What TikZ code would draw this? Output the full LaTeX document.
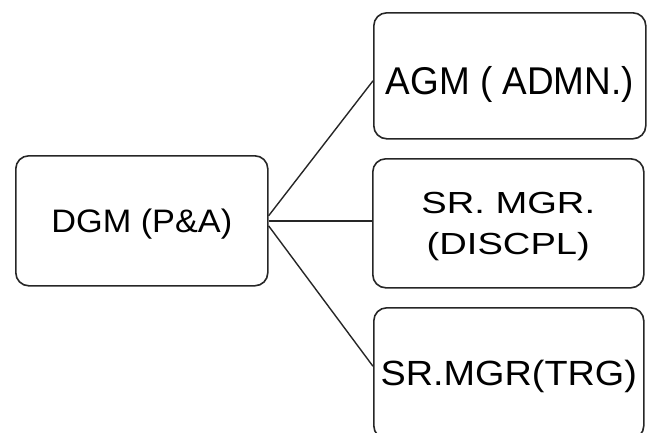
\documentclass[tikz,border=0pt]{standalone}
\usepackage{fontspec}
\setmainfont{Liberation Sans}
\begin{document}
\begin{tikzpicture}[x=1pt,y=-1pt,
  orgbox/.style={draw=black!85, line width=1.6pt, rounded corners=13pt,
    inner sep=0pt, anchor=north west},
  link/.style={draw=black!85, line width=1.4pt}]
\useasboundingbox (0,0) rectangle (654,432);
\clip (0,0) rectangle (654,432);

% head of the department
\node[orgbox, minimum width=252pt, text height=77pt, text depth=53pt,
  font=\fontsize{32.5}{39}\selectfont] (dgm) at (15,155)
  {\scalebox{1.055}[1]{DGM (P\&A)}};

% reporting officers
\node[orgbox, minimum width=272pt, text height=82pt, text depth=44pt,
  font=\fontsize{38.7}{46}\selectfont] (agm) at (373,12)
  {\scalebox{0.954}[1]{AGM ( ADMN.)}};

\node[orgbox, minimum width=271pt, minimum height=129pt, align=center,
  font=\fontsize{30.5}{41}\selectfont] (mid) at (372,158)
  {\rule{0pt}{28pt}\scalebox{1.25}[1]{SR. MGR.}\\\scalebox{1.25}[1]{(DISCPL)}};

\node[orgbox, minimum width=270pt, text height=78pt, text depth=53pt,
  font=\fontsize{35}{42}\selectfont] (trg) at (373,307)
  {\scalebox{1.08}[1]{SR.MGR(TRG)}};

% reporting lines
\draw[link] ([yshift=5pt]dgm.east) -- ([yshift=-5pt]agm.west);
\draw[link] (dgm.east) -- (dgm.east -| mid.west);
\draw[link] ([yshift=-5pt]dgm.east) -- ([yshift=7pt]trg.west);
\end{tikzpicture}
\end{document}
